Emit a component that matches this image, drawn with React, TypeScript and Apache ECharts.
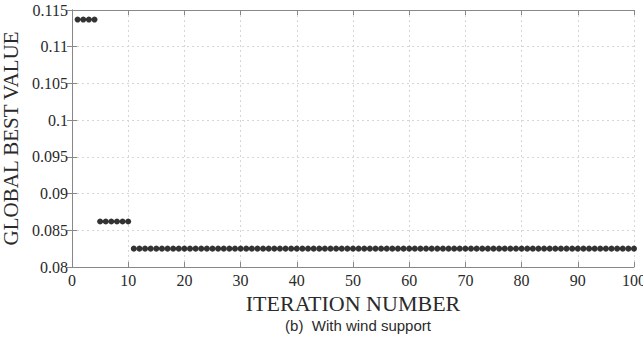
import React, { useEffect, useRef } from "react";
import * as echarts from "echarts";

const iterations: number[] = Array.from({ length: 100 }, (_, i) => i + 1);
const stage1Value = 0.1137;
const stage2Value = 0.0862;
const stage3Value = 0.0825;
const stage1Iters = [1, 2, 3, 4];
const stage2Iters = [5, 6, 7, 8, 9, 10];
const bestValues: number[] = iterations.map((it) =>
  stage1Iters.includes(it) ? stage1Value : stage2Iters.includes(it) ? stage2Value : stage3Value
);
const xTicks = [0, 10, 20, 30, 40, 50, 60, 70, 80, 90, 100];
const yTickLabels = ["0.08", "0.085", "0.09", "0.095", "0.1", "0.105", "0.11", "0.115"];

export default function App() {
  const ref = useRef<HTMLDivElement>(null);
  useEffect(() => {
    if (!ref.current) return;
    const chart = echarts.init(ref.current, null, { renderer: "svg" });
    const serif = "Liberation Serif, Times New Roman, serif";
    const gridLine = { show: true, lineStyle: { color: "#d6d6d6", type: [2, 3], width: 1 } };
    chart.setOption({
      animation: false,
      backgroundColor: "#ffffff",
      grid: { left: 72, right: 9, top: 10, bottom: 78, containLabel: false, outerBoundsMode: "none" },
      xAxis: [
        {
          type: "value",
          min: 0,
          max: 100,
          interval: 10,
          name: "ITERATION NUMBER",
          nameLocation: "middle",
          nameGap: 20,
          nameTextStyle: { fontFamily: serif, fontSize: 22, color: "#2a2a2a" },
          axisLine: { show: true, lineStyle: { color: "#888", width: 1 } },
          axisTick: { show: true, inside: true, length: 5, lineStyle: { color: "#888" } },
          axisLabel: {
            fontFamily: serif,
            fontSize: 16,
            color: "#2a2a2a",
            margin: 5,
            formatter: (v: number) => (xTicks.includes(v) ? String(v) : ""),
          },
          splitLine: gridLine,
        },
        {
          type: "value",
          position: "top",
          min: 0,
          max: 100,
          interval: 10,
          axisLine: { show: true, lineStyle: { color: "#888", width: 1 } },
          axisTick: { show: true, inside: true, length: 5, lineStyle: { color: "#888" } },
          axisLabel: { show: false },
          splitLine: { show: false },
        },
      ],
      yAxis: [
        {
          type: "value",
          min: 0.08,
          max: 0.115,
          interval: 0.005,
          name: "GLOBAL BEST VALUE",
          nameLocation: "middle",
          nameGap: 51,
          nameTextStyle: { fontFamily: serif, fontSize: 21, color: "#2a2a2a" },
          axisLine: { show: true, lineStyle: { color: "#888", width: 1 } },
          axisTick: { show: true, inside: true, length: 5, lineStyle: { color: "#888" } },
          axisLabel: {
            fontFamily: serif,
            fontSize: 16,
            color: "#2a2a2a",
            margin: 4,
            formatter: (v: number) => {
              const idx = Math.round((v - 0.08) / 0.005);
              return yTickLabels[idx] ?? "";
            },
          },
          splitLine: gridLine,
        },
        {
          type: "value",
          position: "right",
          min: 0.08,
          max: 0.115,
          interval: 0.005,
          axisLine: { show: true, lineStyle: { color: "#888", width: 1 } },
          axisTick: { show: true, inside: true, length: 5, lineStyle: { color: "#888" } },
          axisLabel: { show: false },
          splitLine: { show: false },
        },
      ],
      title: {
        text: "(b)  With wind support",
        left: 353,
        textAlign: "center",
        top: 313,
        textStyle: { fontFamily: "Liberation Sans, Arial, sans-serif", fontSize: 15, fontWeight: "normal", color: "#2a2a2a" },
      },
      series: [
        {
          type: "scatter",
          xAxisIndex: 0,
          yAxisIndex: 0,
          symbol: "circle",
          symbolSize: 6,
          itemStyle: { color: "#000" },
          data: iterations.map((it, i) => [it, bestValues[i]]),
        },
      ],
    });
    return () => chart.dispose();
  }, []);
  return <div ref={ref} style={{ position: "absolute", left: 0, top: 0, width: 643, height: 345 }} />;
}
